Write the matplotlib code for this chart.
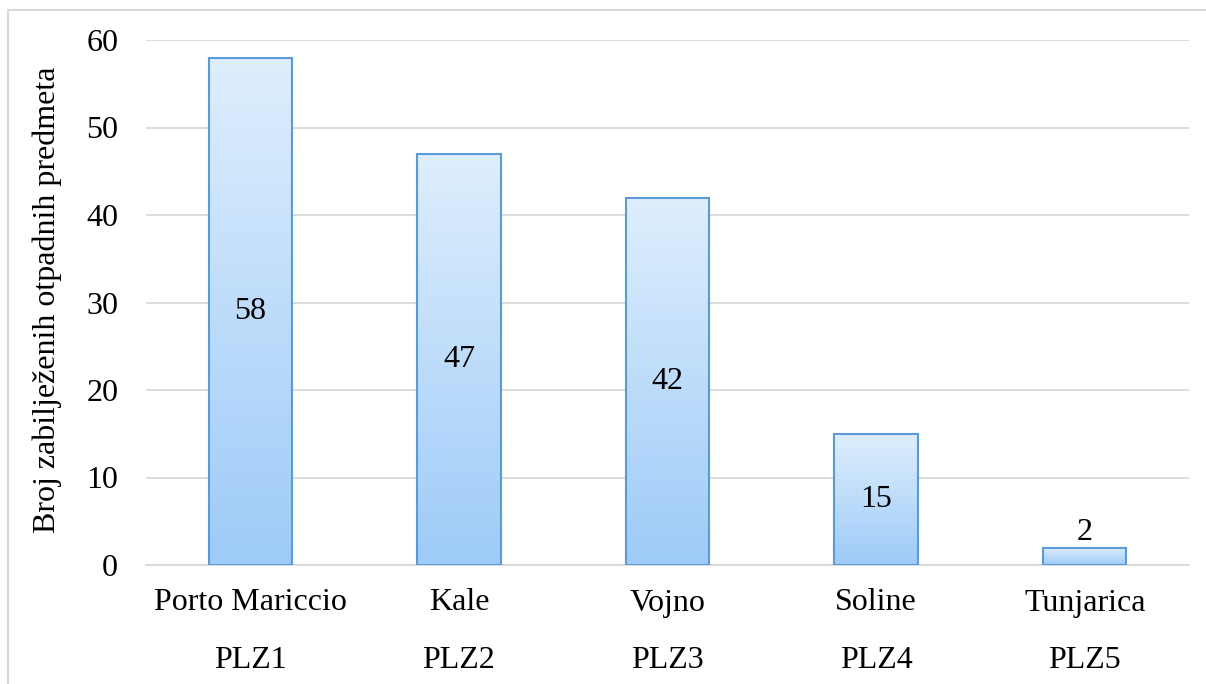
import numpy as np
import matplotlib.pyplot as plt
from matplotlib.lines import Line2D
from matplotlib.colors import LinearSegmentedColormap

# data
sites = ["Porto Mariccio", "Kale", "Vojno", "Soline", "Tunjarica"]
codes = ["PLZ1", "PLZ2", "PLZ3", "PLZ4", "PLZ5"]
counts = [58, 47, 42, 15, 2]
yticks = [0, 10, 20, 30, 40, 50, 60]

plt.rcParams['font.family'] = ['Liberation Serif', 'DejaVu Serif']
FS = 23

fig = plt.figure(figsize=(12.06, 6.84), dpi=100)
ax = fig.add_axes([146 / 1206, 1 - 565 / 684, 1043 / 1206, 525 / 684])

x = np.arange(len(sites))
bars = ax.bar(x, counts, width=0.4, color='none', edgecolor='#5B9BD5',
              linewidth=1.5, zorder=3)

# vertical gradient fill, light at top, darker at the bottom
cmap = LinearSegmentedColormap.from_list('grad', ['#9ECBF8', '#DEEEFD'])
grad = np.linspace(0, 1, 256).reshape(-1, 1)
for b in bars:
    x0, w, h = b.get_x(), b.get_width(), b.get_height()
    ax.imshow(grad, cmap=cmap, origin='lower', aspect='auto',
              extent=(x0, x0 + w, 0, h), zorder=2)

ax.set_xlim(-0.5, len(sites) - 0.5)
ax.set_ylim(0, 60)
ax.set_yticks(yticks)
ax.tick_params(axis='y', labelsize=FS, length=0, pad=20)
ax.set_xticks([])
ax.grid(axis='y', color='#D9D9D9', linewidth=1.3, zorder=0)
ax.set_axisbelow(True)
for s in ['top', 'right', 'left']:
    ax.spines[s].set_visible(False)
ax.spines['bottom'].set_color('#D9D9D9')
ax.spines['bottom'].set_linewidth(1.3)

ax.set_ylabel("Broj zabilježenih otpadnih predmeta", fontsize=FS)
ax.yaxis.set_label_coords((62 - 146) / 1043, 0.505)

# value labels
for xi, v in zip(x, counts):
    if v >= 5:
        ax.text(xi, v / 2, str(v), ha='center', va='center', fontsize=FS, zorder=4)
    else:
        ax.text(xi, v, str(v), ha='center', va='bottom', fontsize=FS, zorder=4)

# two-line category labels
trans = ax.get_xaxis_transform()
for xi, s, c in zip(x, sites, codes):
    ax.text(xi, -38 / 525, s, transform=trans, ha='center', va='center', fontsize=FS)
    ax.text(xi, -95 / 525, c, transform=trans, ha='center', va='center', fontsize=FS)

# outer chart border (top and left visible)
fig.add_artist(Line2D([8 / 1206, 8 / 1206], [0, 1 - 10 / 684], color='#D9D9D9', lw=1.5))
fig.add_artist(Line2D([8 / 1206, 1], [1 - 10 / 684, 1 - 10 / 684], color='#D9D9D9', lw=1.5))

fig.savefig('out.png', dpi=100)
